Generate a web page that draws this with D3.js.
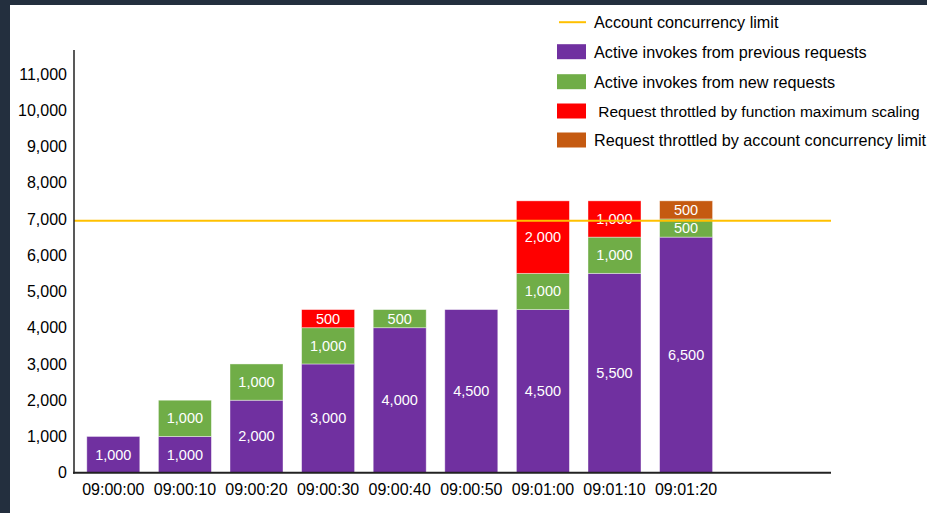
<!DOCTYPE html>
<html>
<head>
<meta charset="utf-8">
<script src="https://cdn.jsdelivr.net/npm/d3@7"></script>
<style>
  html, body { margin: 0; padding: 0; background: #ffffff; overflow: hidden; }
  svg { display: block; }
  text { font-family: "Liberation Sans", Arial, sans-serif; }
</style>
</head>
<body>
<svg id="chart" width="927" height="513"></svg>
<script>
// ---- data ----
const categories = ["09:00:00","09:00:10","09:00:20","09:00:30","09:00:40","09:00:50","09:01:00","09:01:10","09:01:20"];
const previousInvokes = [1000, 1000, 2000, 3000, 4000, 4500, 4500, 5500, 6500];
const newInvokes      = [0, 1000, 1000, 1000, 500, 0, 1000, 1000, 500];
const throttledFunc   = [0, 0, 0, 500, 0, 0, 2000, 1000, 0];
const throttledAcct   = [0, 0, 0, 0, 0, 0, 0, 0, 500];
const accountLimit = 7000;
const yTicks = [0,1000,2000,3000,4000,5000,6000,7000,8000,9000,10000,11000];
const seriesKeys = ["previous","new","throttledFunc","throttledAcct"];
const seriesColors = ["#7030A0","#70AD47","#FF0000","#C55A11"];
const legendLabels = ["Account concurrency limit","Active invokes from previous requests","Active invokes from new requests"," Request throttled by function maximum scaling","Request throttled by account concurrency limit"];
const limitColor = "#FFC000";

const rows = categories.map((c, i) => ({
  cat: c, previous: previousInvokes[i], new: newInvokes[i],
  throttledFunc: throttledFunc[i], throttledAcct: throttledAcct[i]
}));

const svg = d3.select("#chart");
svg.append("rect").attr("x", 0).attr("y", 0).attr("width", 927).attr("height", 513).attr("fill", "#ffffff");

const x = d3.scaleBand().domain(categories).range([77.5, 721.9]).paddingInner(0.26).paddingOuter(0.13);
const y = d3.scaleLinear().domain([0, 11000]).range([472.7, 74]);

const stack = d3.stack().keys(seriesKeys)(rows);
const color = d3.scaleOrdinal().domain(seriesKeys).range(seriesColors);

const g = svg.append("g");
stack.forEach(layer => {
  const key = layer.key;
  const lg = g.append("g");
  lg.selectAll("rect").data(layer.filter(d => d[1] > d[0])).join("rect")
    .attr("x", d => x(d.data.cat))
    .attr("width", x.bandwidth())
    .attr("y", d => y(d[1]))
    .attr("height", d => y(d[0]) - y(d[1]))
    .attr("fill", color(key))
    .attr("stroke", "#ffffff").attr("stroke-opacity", 0.5).attr("stroke-width", 0.8);
  lg.selectAll("text").data(layer.filter(d => d[1] > d[0])).join("text")
    .attr("x", d => x(d.data.cat) + x.bandwidth() / 2)
    .attr("y", d => (y(d[0]) + y(d[1])) / 2)
    .attr("text-anchor", "middle")
    .attr("dominant-baseline", "central")
    .attr("fill", "#ffffff")
    .style("font-size", "14.5px")
    .text(d => d3.format(",")(d[1] - d[0]));
});

// account limit line
svg.append("line")
  .attr("x1", 74).attr("x2", 831)
  .attr("y1", 220.7).attr("y2", 220.7)
  .attr("stroke", limitColor).attr("stroke-width", 2)
  .attr("data-value", accountLimit);

// y axis
const yAxis = d3.axisLeft(y).tickValues(yTicks).tickSize(0).tickPadding(7).tickFormat(d3.format(","));
const ya = svg.append("g").attr("transform", "translate(74,0)").call(yAxis);
ya.select(".domain").remove();
ya.selectAll("text").style("font-size", "16px").attr("fill", "#000");
svg.append("line").attr("x1", 74).attr("x2", 74).attr("y1", 50).attr("y2", y(0) + 1)
  .attr("stroke", "#222").attr("stroke-width", 1.5);

// x axis
const xAxis = d3.axisBottom(x).tickSize(0).tickPadding(11);
const xa = svg.append("g").attr("transform", `translate(0,${y(0)})`).call(xAxis);
xa.select(".domain").remove();
xa.selectAll("text").style("font-size", "16px").attr("fill", "#000");
svg.append("line").attr("x1", 73).attr("x2", 831).attr("y1", y(0)).attr("y2", y(0))
  .attr("stroke", "#222").attr("stroke-width", 2);

// legend
const legendY = [21.7, 51.7, 81.7, 111, 140];
const legendFont = [16.2, 16.2, 16.2, 15.5, 16.2];
const lg = svg.append("g");
legendLabels.forEach((lab, i) => {
  const cy = legendY[i];
  if (i === 0) {
    lg.append("line").attr("x1", 559).attr("x2", 586).attr("y1", cy + 0.5).attr("y2", cy + 0.5)
      .attr("stroke", limitColor).attr("stroke-width", 2);
  } else {
    lg.append("rect").attr("x", 557).attr("y", cy - 7.5).attr("width", 29).attr("height", 15)
      .attr("fill", seriesColors[i - 1]);
  }
  lg.append("text").attr("x", 594).attr("y", cy).attr("dominant-baseline", "central")
    .attr("fill", "#000").style("font-size", legendFont[i] + "px").attr("xml:space", "preserve")
    .style("white-space", "pre").text(lab);
});
// dark frame (top and left edges)
svg.append("rect").attr("x", 0).attr("y", 0).attr("width", 927).attr("height", 5).attr("fill", "#232F3E");
svg.append("rect").attr("x", 0).attr("y", 0).attr("width", 10).attr("height", 513).attr("fill", "#232F3E");
</script>
</body>
</html>
